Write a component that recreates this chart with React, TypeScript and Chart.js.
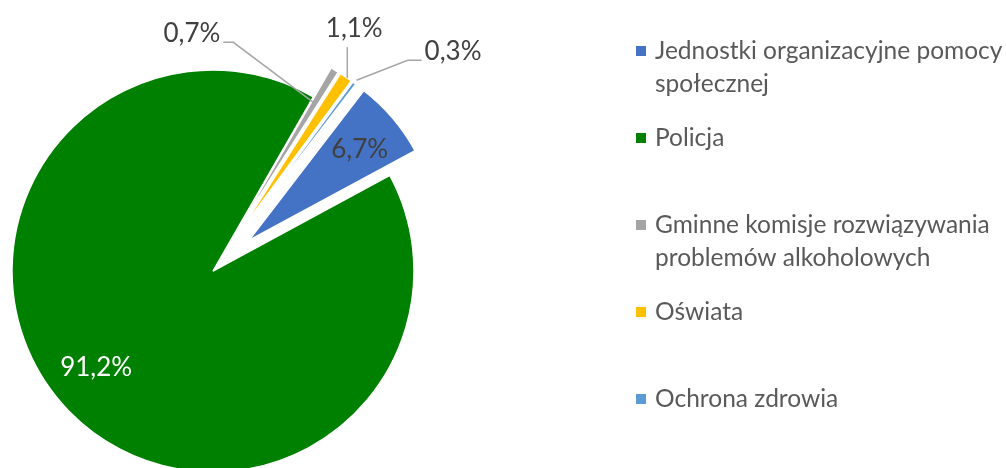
import React, { useEffect, useRef } from "react";
import { Chart, registerables } from "chart.js";

Chart.register(...registerables);

// ---- data ----
const categories: string[][] = [
  ["Jednostki organizacyjne pomocy", "społecznej"],
  ["Policja"],
  ["Gminne komisje rozwiązywania", "problemów alkoholowych"],
  ["Oświata"],
  ["Ochrona zdrowia"],
];
const values: number[] = [6.7, 91.2, 0.7, 1.1, 0.3];
const valueLabels: string[] = ["6,7%", "91,2%", "0,7%", "1,1%", "0,3%"];
const colors: string[] = ["#4472C4", "#008000", "#A5A5A5", "#FFC000", "#5B9BD5"];

// ---- style ----
const FONT = "Lato, 'Open Sans', sans-serif";
const explode = [47, 0, 46, 46, 46];
const sliceRadius = [189, 201, 189, 189, 189];

type LabelStyle = {
  k: number;
  angleAdj: number;
  color: string;
  align: CanvasTextAlign;
  leader?: number[][];
  textDx?: number;
  textDy?: number;
};

const labelStyles: LabelStyle[] = [
  { k: 0.76, angleAdj: 1, color: "#404040", align: "center" },
  { k: 0.756, angleAdj: 4.5, color: "#FFFFFF", align: "center" },
  { k: 0.795, angleAdj: -0.6, color: "#404040", align: "right", leader: [[-80, -60], [-10, 0]], textDx: -3, textDy: -9 },
  { k: 1.0, angleAdj: 0.5, color: "#404040", align: "center", leader: [[0, -31]], textDx: 7, textDy: -19 },
  { k: 1.02, angleAdj: 0, color: "#404040", align: "left", leader: [[51, -20], [14, 0]], textDx: 3, textDy: -9 },
];

const geometryPlugin = {
  id: "explodeGeometry",
  afterDatasetsUpdate(chart: any) {
    const meta = chart.getDatasetMeta(0);
    meta.data.forEach((el: any, i: number) => {
      const mid = (el.startAngle + el.endAngle) / 2;
      el.x += Math.cos(mid) * explode[i];
      el.y += Math.sin(mid) * explode[i];
      el.outerRadius = sliceRadius[i];
    });
  },
};

const labelPlugin = {
  id: "sliceLabels",
  afterDatasetsDraw(chart: any) {
    const ctx: CanvasRenderingContext2D = chart.ctx;
    const meta = chart.getDatasetMeta(0);
    ctx.save();
    ctx.font = `26px ${FONT}`;
    ctx.textBaseline = "middle";
    meta.data.forEach((el: any, i: number) => {
      const cfg = labelStyles[i];
      const mid = (el.startAngle + el.endAngle) / 2 + (cfg.angleAdj * Math.PI) / 180;
      const r = el.outerRadius * cfg.k;
      const ax = el.x + Math.cos(mid) * r;
      const ay = el.y + Math.sin(mid) * r;
      let tx = ax;
      let ty = ay;
      if (cfg.leader) {
        ctx.strokeStyle = "#A6A6A6";
        ctx.lineWidth = 1.5;
        ctx.beginPath();
        ctx.moveTo(ax, ay);
        let px = ax;
        let py = ay;
        for (const [dx, dy] of cfg.leader) {
          px += dx;
          py += dy;
          ctx.lineTo(px, py);
        }
        ctx.stroke();
        tx = px + (cfg.textDx || 0);
        ty = py + (cfg.textDy || 0);
      }
      ctx.fillStyle = cfg.color;
      ctx.textAlign = cfg.align;
      ctx.fillText(valueLabels[i], tx, ty);
    });
    ctx.restore();
  },
};

const legendPlugin = {
  id: "sideLegend",
  afterDraw(chart: any) {
    const ctx: CanvasRenderingContext2D = chart.ctx;
    ctx.save();
    ctx.font = `24.5px ${FONT}`;
    ctx.textAlign = "left";
    ctx.textBaseline = "alphabetic";
    categories.forEach((lines, i) => {
      const cy = 51 + 87 * i;
      ctx.fillStyle = colors[i];
      ctx.fillRect(636, cy - 5, 10, 10);
      ctx.fillStyle = "#595959";
      lines.forEach((line, j) => {
        ctx.fillText(line, 655, cy + 8 + j * 32.5);
      });
    });
    ctx.restore();
  },
};

export default function App() {
  const canvasRef = useRef<HTMLCanvasElement | null>(null);

  useEffect(() => {
    if (!canvasRef.current) return;
    const chart = new Chart(canvasRef.current, {
      type: "pie",
      data: {
        labels: categories.map((c) => c.join(" ")),
        datasets: [
          {
            data: values,
            backgroundColor: colors,
            borderColor: "#FFFFFF",
            borderWidth: 1.5,
          },
        ],
      },
      options: {
        responsive: false,
        animation: false,
        rotation: 37.5,
        radius: 201,
        layout: { padding: { left: 0, right: 580, top: 74, bottom: 0 } },
        plugins: {
          legend: { display: false },
          tooltip: { enabled: false },
        },
      },
      plugins: [geometryPlugin, labelPlugin, legendPlugin],
    });
    return () => chart.destroy();
  }, []);

  return (
    <div style={{ position: "fixed", left: 0, top: 0, width: 1006, height: 468, background: "#FFFFFF" }}>
      <canvas ref={canvasRef} width={1006} height={468} />
    </div>
  );
}
